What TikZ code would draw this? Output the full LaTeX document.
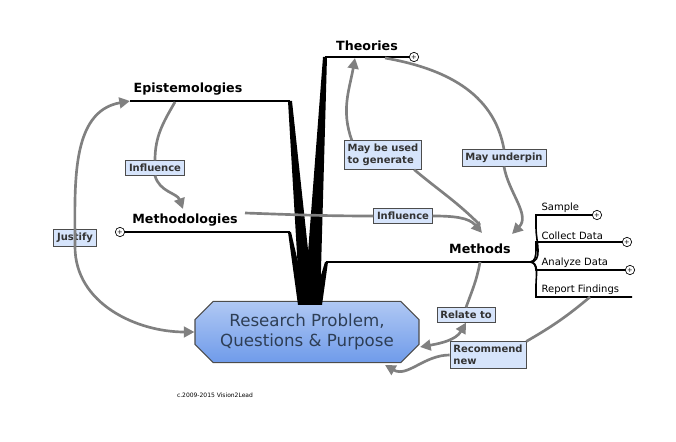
\documentclass[tikz,border=0pt]{standalone}
\usepackage{fontspec}
\setmainfont{DejaVu Sans}
\usetikzlibrary{arrows.meta,positioning,shapes.misc}
\definecolor{boxblue}{HTML}{D6E4FB}
\definecolor{rootblue}{HTML}{6F9BEA}
\definecolor{roottext}{HTML}{2E3E55}
\tikzset{
  topic/.style={font=\fontsize{9.5}{11}\selectfont\bfseries,inner sep=1pt},
  sub/.style={font=\fontsize{7.5}{9}\selectfont,inner sep=1pt},
  rel/.style={draw=black!70,fill=boxblue,font=\fontsize{7.5}{9}\selectfont\bfseries,
    text=black!80,align=left,inner sep=2.5pt,line width=0.6pt},
  link/.style={draw=black!50,line width=2pt,-{Triangle[length=8pt,width=8pt]}},
  branch/.style={line width=1.6pt},
  plus/.style={circle,draw,fill=white,inner sep=0pt,minimum size=7pt,
    font=\fontsize{5}{5}\selectfont,line width=0.5pt}
}
\begin{document}
\begin{tikzpicture}[x=0.75pt,y=-0.75pt]
\useasboundingbox (0,0) rectangle (676,442);

% root
\node[chamfered rectangle,chamfered rectangle xsep=10pt,draw=black!70,line width=0.8pt,
  top color=rootblue!55,bottom color=rootblue,minimum width=168pt,minimum height=46pt,
  text=roottext,align=center,font=\fontsize{12.5}{15}\selectfont,inner sep=2pt]
  (root) at (307,332) {Research Problem,\\Questions \& Purpose};

% topics
\node[topic] (epi) at (188,89) {Epistemologies};
\node[topic] (the) at (367,46) {Theories};
\node[topic] (mdl) at (185,220) {Methodologies};
\node[topic] (mth) at (480,249) {Methods};

\coordinate (epiL) at (130,101);
\coordinate (epiR) at (290,101);
\coordinate (theL) at (325,57);
\coordinate (theR) at (410,57);
\coordinate (mdlL) at (122,232);
\coordinate (mdlR) at (290,232);
\coordinate (mthL) at (326,262);
\coordinate (mthR) at (530,262);

% trunk wedges
\fill (300,305) -- (288,101) -- (292,101) -- (314,305) -- cycle;
\fill (304,305) -- (323,57) -- (327,57) -- (320,305) -- cycle;
\fill (298,305) -- (288,232) -- (291,232) -- (308,305) -- cycle;
\fill (312,305) -- (325,262) -- (328,262) -- (322,305) -- cycle;
\draw[branch] (epiL) -- (epiR);
\draw[branch] (theL) -- (theR);
\draw[branch] (mdlL) -- (mdlR);
\draw[branch] (mthL) -- (mthR);

% sub topics of methods
\node[sub,anchor=south west] (smp) at (540,214) {Sample};
\node[sub,anchor=south west] (col) at (540,241) {Collect Data};
\node[sub,anchor=south west] (ana) at (540,269) {Analyze Data};
\node[sub,anchor=south west] (rep) at (540,296) {Report Findings};
\draw[branch,line width=1.2pt] (mthR) to[out=0,in=-90] (536,228) |- (595,215);
\draw[branch,line width=1.2pt] (mthR) to[out=0,in=-90] (536,250) |- (625,242);
\draw[branch,line width=1.2pt] (mthR) to[out=0,in=90] (536,270) -- (628,270);
\draw[branch,line width=1.2pt] (mthR) to[out=0,in=90] (536,285) |- (632,297);

\node[plus] (p1) at (414,57) {+};
\node[plus] (p2) at (120,232) {+};
\node[plus] (p3) at (597,215) {+};
\node[plus] (p4) at (627,242) {+};
\node[plus] (p5) at (630,270) {+};

% relation labels
\node[rel] (justify) at (75,238) {Justify};
\node[rel] (infl1) at (155,168) {Influence};
\node[rel] (gen) at (383,155) {May be used\\to generate};
\node[rel] (under) at (504,158) {May underpin};
\node[rel] (infl2) at (403,216) {Influence};
\node[rel] (relate) at (466,315) {Relate to};
\node[rel] (recom) at (488,355) {Recommend\\new};

% relations
\draw[link,{Triangle[length=8pt,width=8pt]}-{Triangle[length=8pt,width=8pt]}]
  (root.west) to[out=180,in=-90] (justify.south) to[out=90,in=190] (epiL);
\draw[link] (175,102) to[out=-120,in=90] (infl1.north) (infl1.south) to[out=-75,in=110] (183,209);
\draw[link] (gen.north west) ++(8,0) to[out=110,in=-100] (355,58);
\draw[draw=black!50,line width=2pt] (gen.south east) ++(-8,0) to[out=-40,in=135] (480,225);
\draw[link] (385,58) to[out=-10,in=100] (under.north) (under.south) to[out=-80,in=45] (512,234);
\draw[link] (245,213) to[out=-2,in=180] (infl2.west) (infl2.east) to[out=0,in=130] (482,233);
\draw[link,{Triangle[length=8pt,width=8pt]}-{Triangle[length=8pt,width=8pt]}]
  (480,262) to[out=-100,in=70] (relate.north) (relate.south) to[out=-120,in=10] (420,347);
\draw[link] (590,297) to[out=-140,in=30] (recom.north east) (recom.west) to[out=180,in=-30] (385,365);

\node[font=\fontsize{4.5}{5}\selectfont] (copy) at (215,395) {c.2009-2015 Vision2Lead};
\end{tikzpicture}
\end{document}
